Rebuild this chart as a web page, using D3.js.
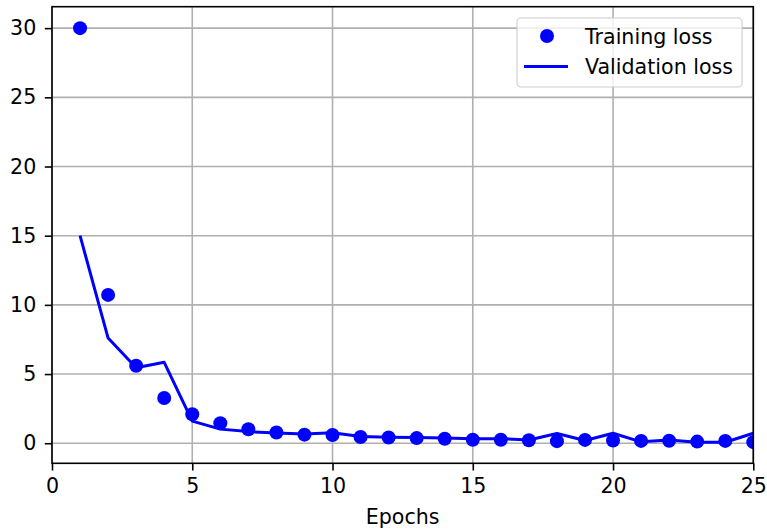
<!DOCTYPE html>
<html>
<head>
<meta charset="utf-8">
<script src="https://cdn.jsdelivr.net/npm/d3@7"></script>
<style>
  html, body { margin: 0; padding: 0; background: #ffffff; }
  svg { display: block; }
  text { font-family: "DejaVu Sans", sans-serif; fill: #000; }
</style>
</head>
<body>
<div id="chart"></div>
<script>
// Loss per epoch
const epochs = [1, 2, 3, 4, 5, 6, 7, 8, 9, 10, 11, 12, 13, 14, 15, 16, 17, 18, 19, 20, 21, 22, 23, 24, 25];
const trainingLoss = [30.0, 10.72, 5.6, 3.27, 2.1, 1.45, 1.01, 0.78, 0.62, 0.6, 0.45, 0.42, 0.37, 0.32, 0.25, 0.25, 0.22, 0.15, 0.24, 0.2, 0.17, 0.18, 0.12, 0.17, 0.08];
const validationLoss = [15.0, 7.6, 5.45, 5.85, 1.6, 1.02, 0.84, 0.74, 0.67, 0.75, 0.48, 0.43, 0.42, 0.38, 0.33, 0.33, 0.24, 0.7, 0.2, 0.72, 0.1, 0.24, 0.07, 0.07, 0.72];
const xTicks = [0, 5, 10, 15, 20, 25];
const yTicks = [0, 5, 10, 15, 20, 25, 30];
const seriesNames = ["Training loss", "Validation loss"];

const W = 767, H = 532;
const plot = { left: 52, right: 753.3, top: 6.7, bottom: 463.3 };
const fontSize = 20.6;
const blue = "#0000ff";
const markerR = 7;

const svg = d3.select("#chart").append("svg")
  .attr("width", W).attr("height", H);

const x = d3.scaleLinear().domain([0, 25]).range([plot.left, plot.right]);
const y = d3.scaleLinear().domain([-1.45, 31.55]).range([plot.bottom, plot.top]);

// clip region for the data
svg.append("defs").append("clipPath").attr("id", "plotClip")
  .append("rect")
  .attr("x", plot.left).attr("y", plot.top)
  .attr("width", plot.right - plot.left).attr("height", plot.bottom - plot.top);

// grid
const grid = svg.append("g").attr("stroke", "#b0b0b0").attr("stroke-width", 1.6);
grid.selectAll("line.vx").data(xTicks).join("line")
  .attr("x1", d => x(d)).attr("x2", d => x(d))
  .attr("y1", plot.top).attr("y2", plot.bottom);
grid.selectAll("line.hy").data(yTicks).join("line")
  .attr("x1", plot.left).attr("x2", plot.right)
  .attr("y1", d => y(d)).attr("y2", d => y(d));

// data
const data = epochs.map((e, i) => ({ e, t: trainingLoss[i], v: validationLoss[i] }));
const dataG = svg.append("g").attr("clip-path", "url(#plotClip)");

dataG.append("path")
  .datum(data)
  .attr("fill", "none")
  .attr("stroke", blue)
  .attr("stroke-width", 3)
  .attr("stroke-linejoin", "round")
  .attr("stroke-linecap", "butt")
  .attr("d", d3.line().x(d => x(d.e)).y(d => y(d.v)));

dataG.selectAll("circle").data(data).join("circle")
  .attr("cx", d => x(d.e)).attr("cy", d => y(d.t))
  .attr("r", markerR)
  .attr("fill", blue);

// axes
const xAxis = d3.axisBottom(x).tickValues(xTicks).tickSize(7.2).tickPadding(7.5).tickFormat(d3.format("d"));
const yAxis = d3.axisLeft(y).tickValues(yTicks).tickSize(7.2).tickPadding(8.5).tickFormat(d3.format("d"));

const gx = svg.append("g").attr("transform", `translate(0,${plot.bottom})`).call(xAxis);
const gy = svg.append("g").attr("transform", `translate(${plot.left},0)`).call(yAxis);
[gx, gy].forEach(g => {
  g.select(".domain").remove();
  g.selectAll(".tick line").attr("stroke", "#000").attr("stroke-width", 1.6);
  g.selectAll(".tick text").attr("font-size", fontSize).attr("font-family", "DejaVu Sans").attr("fill", "#000");
});

// spines
svg.append("rect")
  .attr("x", plot.left).attr("y", plot.top)
  .attr("width", plot.right - plot.left).attr("height", plot.bottom - plot.top)
  .attr("fill", "none").attr("stroke", "#000").attr("stroke-width", 1.6);

// axis label
svg.append("text")
  .attr("x", (plot.left + plot.right) / 2).attr("y", 523.5)
  .attr("text-anchor", "middle").attr("font-size", fontSize)
  .text("Epochs");

// legend
const lg = svg.append("g");
lg.append("rect")
  .attr("x", 517).attr("y", 18).attr("width", 225).attr("height", 69)
  .attr("rx", 4).attr("ry", 4)
  .attr("fill", "#fff").attr("fill-opacity", 0.8)
  .attr("stroke", "#cccccc").attr("stroke-width", 1.1);
lg.append("circle").attr("cx", 547).attr("cy", 36).attr("r", markerR).attr("fill", blue);
lg.append("line").attr("x1", 524).attr("x2", 568).attr("y1", 66.5).attr("y2", 66.5)
  .attr("stroke", blue).attr("stroke-width", 3);
lg.selectAll("text.lab").data(seriesNames).join("text")
  .attr("x", 585).attr("y", (d, i) => 43.5 + i * 30.7)
  .attr("font-size", fontSize)
  .text(d => d);
</script>
</body>
</html>
